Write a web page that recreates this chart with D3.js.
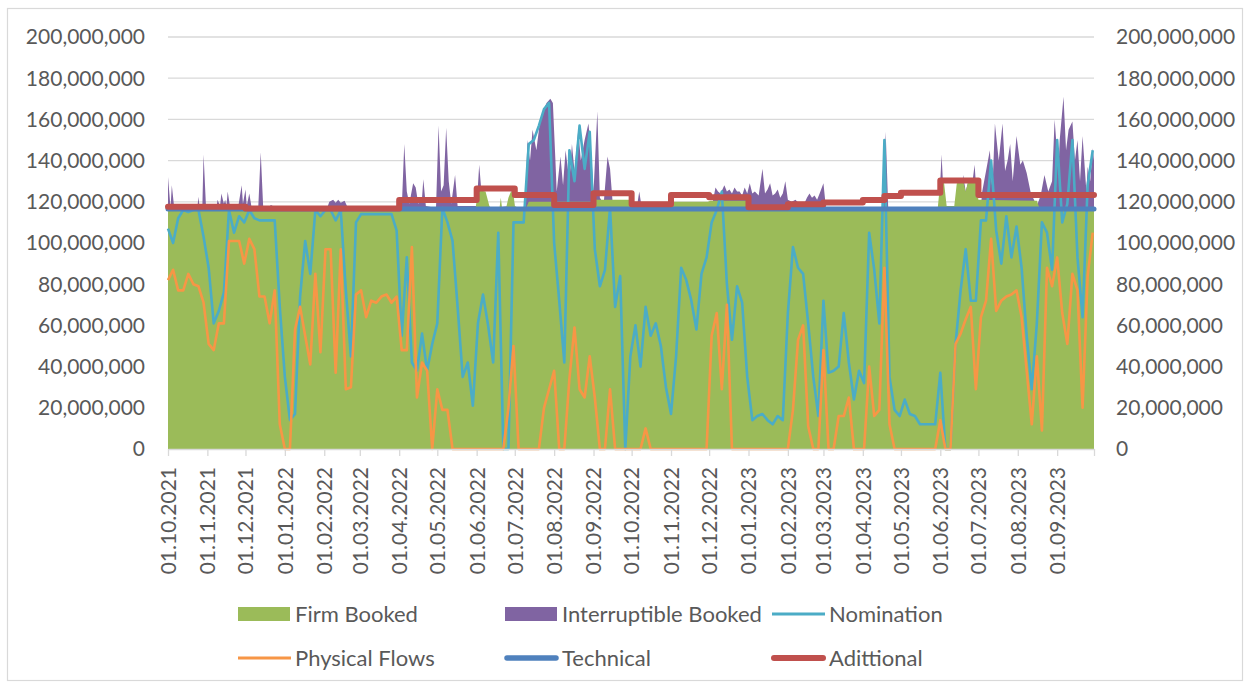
<!DOCTYPE html>
<html>
<head>
<meta charset="utf-8">
<script src="https://cdn.jsdelivr.net/npm/d3@7"></script>
<style>
body { margin: 0; background: #fff; }
svg text { font-family: Lato, "Open Sans", sans-serif; fill: #595959; }
</style>
</head>
<body>
<svg id="chart" width="1250" height="687"></svg>
<script>
// values in millions
var startDate = "2021-10-01";
var endDate = "2023-09-30";
var sampleDays = 4; // nomination and flows read every 4 days from startDate

var nomination = [
  107,100,112,116,115,116,116,103,88,61,
  67,76,116,105,113,110,116,112,111,111,
  111,111,69,35,14,17,74,101,85,116,
  113,116,116,111,116,77,45,110,114,114,
  114,114,114,114,114,106,55,93,42,38,
  56,38,51,61,117,110,101,69,35,42,
  21,61,75,60,42,105,0,0,110,110,
  110,148,150,157,165,168,100,72,42,145,
  130,157,136,154,97,79,87,117,69,84,
  0,45,60,40,69,55,61,50,30,17,
  45,88,82,72,58,85,93,110,116,125,
  80,53,79,71,35,14,16,17,14,12,
  16,14,66,98,88,85,61,35,16,72,
  37,38,40,66,42,24,38,32,105,87,
  61,150,35,19,16,24,17,16,12,12,
  12,12,37,0,0,51,77,97,72,72,
  111,111,140,106,90,113,93,108,88,55,
  29,61,110,105,87,150,110,119,150,93,
  64,128,145
];

var physicalFlows = [
  82,87,77,77,85,80,79,71,51,48,
  61,61,101,101,101,90,102,97,74,74,
  61,77,12,0,0,58,69,55,41,85,
  47,97,97,37,97,29,30,75,77,64,
  72,71,74,75,71,74,48,48,98,25,
  42,38,0,29,19,19,0,0,0,0,
  0,0,0,0,0,0,0,20,50,0,
  0,0,0,0,20,29,38,0,0,34,
  59,29,25,45,25,0,0,29,0,0,
  0,0,0,0,10,0,0,0,0,0,
  0,0,0,0,0,0,0,55,66,29,
  70,0,0,0,0,0,0,0,0,0,
  0,0,0,19,53,60,11,0,0,48,
  0,0,16,16,25,0,0,0,40,16,
  19,88,12,0,0,0,0,0,0,0,
  0,0,14,0,0,51,56,63,69,29,
  64,72,102,67,72,74,75,77,64,38,
  12,45,9,88,79,93,66,51,85,77,
  20,84,105
];

// [day since startDate, value]
var firmBooked = [
  [0,116.5],[242,116.5],[244,124],[246,125.5],[250,125],[253,118],[255,116.5],
  [261,117],[262,122],[263,117],[266,116.5],[268,122],[270,125],[272,124],[273,118],
  [276,117],[282,117],[284,120],[335,120],[337,121],[363,121],[366,118],[394,118],
  [397,120],[425,120],[427,120.5],[455,120.5],[458,117],[606,117],[608,130],[611,129],
  [613,118],[619,118],[621,129],[626,130],[628,125],[630,130],[636,129],[638,121],
  [684,120.5],[686,117],[729,117]
];

// firm + interruptible (top of the stack)
var bookedTotal = [
  [0,132],[2,117],[3,128],[5,116.5],[23,116.5],[24,122.5],[25,116.5],[27,116.5],[28,143],[30,116.5],
  [38,116.5],[39,121],[41,118],[42,124],[44,119],[45,121],[46,118],[47,125],[49,117],
  [55,116.5],[58,128],[59,119],[61,126],[62,118],[64,124],[66,116.5],
  [71,116.5],[73,144],[75,116.5],[79,117],[81,118.5],[84,117.5],[88,118],[90,116.5],
  [125,116.5],[127,120],[130,121],[132,119.5],[134,121],[136,119.5],[139,120.5],[142,116.5],
  [184,116.5],[186,148],[188,125],[190,119],[193,129],[195,127],[197,119],[200,122],[201,131],
  [203,118],[211,117],[213,157],[215,125],[217,128],[219,156],[221,130],[223,119],[226,133],[228,118],
  [243,118],[245,138],[247,123],[249,116.5],[269,118],[271,128],[273,116.5],
  [281,117],[283,150],[285,140],[287,155],[290,145],[293,160],[296,165],[298,168],[301,170],
  [303,168],[305,140],[306,125],[309,142],[311,128],[313,145],[316,130],[318,148],[320,135],
  [323,155],[325,140],[328,150],[331,158],[333,145],[335,125],[338,164],[340,122],[343,119],
  [346,142],[348,136],[350,120],[354,119],[357,117],[369,117],[371,125],[373,117],
  [428,117],[431,127],[433,125],[435,124],[438,128],[440,125],[442,126],[444,124],[446,127],
  [448,125],[450,125],[452,123],[454,127],[456,124],[458,129],[460,124],[462,125],[465,123],
  [468,136],[470,124],[472,126],[474,129],[476,123],[478,124],[480,126],[482,122],[484,124],
  [486,130],[488,121],[491,120],[494,121],[497,119],[500,118],[503,122],[505,124],[507,122],
  [509,123],[511,121],[513,124],[516,129],[518,117],
  [563,117],[565,154],[567,117],[607,117],[609,143],[611,118],
  [624,118],[626,133],[628,125],[630,130],[633,128],[635,138],[637,120],
  [640,118],[641,125],[644,135],[647,145],[649,125],[651,158],[654,140],[657,158],[659,135],
  [661,140],[663,148],[665,130],[668,152],[671,138],[673,140],[676,134],[679,125],[681,122],
  [684,118],[687,123],[690,133],[693,125],[696,130],[698,160],[701,135],[702,150],[705,171],
  [707,145],[709,155],[712,159],[714,140],[716,150],[718,130],[720,152],[723,125],[724,137],
  [726,130],[728,146],[729,140]
];

// step series: [from date, value]
var technical = [["2021-10-01",116.5]];
var additional = [
  ["2021-10-01",117.6],["2021-12-01",116.8],["2022-04-01",120.9],["2022-06-01",126.5],
  ["2022-07-01",123.3],["2022-08-01",118.4],["2022-09-01",124.1],["2022-10-01",118.8],
  ["2022-11-01",123.3],["2022-12-01",122.2],["2023-01-01",117.3],["2023-02-01",118.8],
  ["2023-03-01",119.7],["2023-04-01",120.9],["2023-04-18",122.8],["2023-05-01",124.4],
  ["2023-06-01",130.4],["2023-07-01",123.3]
];

var yTicks = [0,20,40,60,80,100,120,140,160,180,200];

var colors = {
  firm: '#9BBB59', interruptible: '#8064A2', nomination: '#4BACC6',
  flows: '#F79646', technical: '#4F81BD', additional: '#C0504D'
};

var parse = d3.utcParse("%Y-%m-%d");
var t0 = parse(startDate), t1 = parse(endDate);
function dayDate(d) { return d3.utcDay.offset(t0, d); }

var svg = d3.select('#chart');
svg.append('rect').attr('width', 1250).attr('height', 687).attr('fill', '#fff');
svg.append('rect').attr('x', 7.5).attr('y', 8.5).attr('width', 1235).attr('height', 672)
  .attr('fill', 'none').attr('stroke', '#D9D9D9').attr('stroke-width', 1.2);

var x = d3.scaleUtc().domain([t0, t1]).range([168, 1094]);
var y = d3.scaleLinear().domain([0, 200]).range([449, 37]);

// gridlines
svg.append('g').selectAll('line')
  .data(yTicks.filter(function(v) { return v > 0; }))
  .enter().append('line')
  .attr('x1', 168).attr('x2', 1094)
  .attr('y1', function(d) { return y(d); }).attr('y2', function(d) { return y(d); })
  .attr('stroke', '#D9D9D9').attr('stroke-width', 1.3);

// areas: total booked below, firm over it
var area = d3.area()
  .x(function(d) { return x(dayDate(d[0])); })
  .y0(y(0))
  .y1(function(d) { return y(d[1]); });

svg.append('path').datum(bookedTotal).attr('d', area).attr('fill', colors.interruptible);
svg.append('path').datum(firmBooked).attr('d', area).attr('fill', colors.firm);

// sampled lines
var line = d3.line()
  .x(function(d, i) { return x(dayDate(i * sampleDays)); })
  .y(function(d) { return y(d); });

svg.append('path').datum(nomination).attr('d', line)
  .attr('fill', 'none').attr('stroke', colors.nomination).attr('stroke-width', 2.6)
  .attr('stroke-linejoin', 'round');
svg.append('path').datum(physicalFlows).attr('d', line)
  .attr('fill', 'none').attr('stroke', colors.flows).attr('stroke-width', 2.6)
  .attr('stroke-linejoin', 'round');

// step lines
function stepPoints(steps) {
  var pts = steps.map(function(s) { return [parse(s[0]), s[1]]; });
  pts.push([t1, steps[steps.length - 1][1]]);
  return pts;
}
var stepLine = d3.line()
  .x(function(d) { return x(d[0]); })
  .y(function(d) { return y(d[1]); })
  .curve(d3.curveStepAfter);

svg.append('path').datum(stepPoints(technical)).attr('d', stepLine)
  .attr('fill', 'none').attr('stroke', colors.technical).attr('stroke-width', 5)
  .attr('stroke-linecap', 'round');
svg.append('path').datum(stepPoints(additional)).attr('d', stepLine)
  .attr('fill', 'none').attr('stroke', colors.additional).attr('stroke-width', 6)
  .attr('stroke-linecap', 'round').attr('stroke-linejoin', 'round');

// x axis
var monthTicks = d3.utcMonth.range(t0, d3.utcDay.offset(t1, 1));
var xAxis = svg.append('g').attr('transform', 'translate(0,449)')
  .call(d3.axisBottom(x).tickValues(monthTicks.concat([t1]))
    .tickFormat(function(d) { return +d === +t1 ? '' : d3.utcFormat('%d.%m.%Y')(d); })
    .tickSize(7).tickSizeOuter(0));
xAxis.select('.domain').attr('stroke', '#D9D9D9').attr('stroke-width', 1.3);
xAxis.selectAll('.tick line').attr('stroke', '#D9D9D9').attr('stroke-width', 1.3);
xAxis.selectAll('.tick text')
  .attr('transform', 'rotate(-90)')
  .attr('text-anchor', 'end')
  .attr('x', -18).attr('y', 0).attr('dy', '0.35em')
  .style('font-size', '21px').attr('fill', '#595959');

// y labels both sides
var fmt = d3.format(',');
['left', 'right'].forEach(function(side) {
  svg.append('g').selectAll('text')
    .data(yTicks).enter().append('text')
    .attr('x', side === 'left' ? 145 : 1116)
    .attr('y', function(d) { return y(d); })
    .attr('dy', '0.35em')
    .attr('text-anchor', side === 'left' ? 'end' : 'start')
    .style('font-size', '21px')
    .text(function(d) { return fmt(d * 1e6); });
});

// legend
var legendItems = [
  {name: 'Firm Booked', color: colors.firm, type: 'rect'},
  {name: 'Interruptible Booked', color: colors.interruptible, type: 'rect'},
  {name: 'Nomination', color: colors.nomination, type: 'line', w: 3},
  {name: 'Physical Flows', color: colors.flows, type: 'line', w: 3},
  {name: 'Technical', color: colors.technical, type: 'line', w: 5.5},
  {name: 'Adittional', color: colors.additional, type: 'line', w: 6}
];
var colX = [238, 505, 772], rowY = [614, 658];
var lg = svg.append('g').selectAll('g').data(legendItems).enter().append('g')
  .attr('transform', function(d, i) { return 'translate(' + colX[i % 3] + ',' + rowY[Math.floor(i / 3)] + ')'; });
lg.filter(function(d) { return d.type === 'rect'; }).append('rect')
  .attr('x', 0).attr('y', -7).attr('width', 52).attr('height', 14)
  .attr('fill', function(d) { return d.color; });
lg.filter(function(d) { return d.type === 'line'; }).append('line')
  .attr('x1', function(d) { return d.w > 4 ? 2 : 0; })
  .attr('x2', function(d) { return d.w > 4 ? 51 : 53; })
  .attr('stroke', function(d) { return d.color; })
  .attr('stroke-width', function(d) { return d.w; })
  .attr('stroke-linecap', function(d) { return d.w > 4 ? 'round' : 'butt'; });
lg.append('text').attr('x', 57).attr('dy', '0.35em').style('font-size', '22px')
  .text(function(d) { return d.name; });
</script>
</body>
</html>
